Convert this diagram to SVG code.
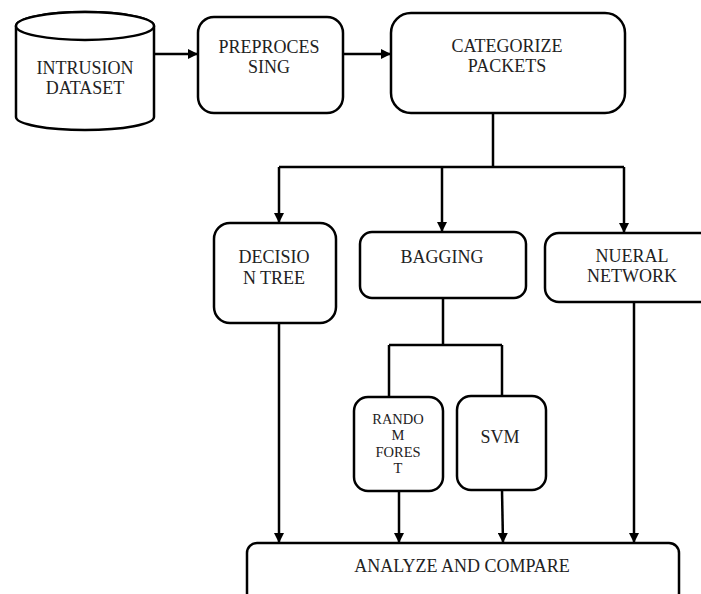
<svg xmlns="http://www.w3.org/2000/svg" width="701" height="594" viewBox="0 0 701 594">
  <style>
    .box { fill: #ffffff; stroke: #000000; stroke-width: 2.5; }
    .lbl { font-family: "Liberation Serif", "Times New Roman", serif; font-size: 18px; fill: #222222; text-anchor: middle; }
    .sm { font-size: 14.5px; }
    .wire { fill: none; stroke: #000000; stroke-width: 2.5; }
  </style>
  <defs>
    <marker id="arrow" viewBox="0 0 10 10" refX="10" refY="5" markerWidth="4" markerHeight="4" orient="auto" markerUnits="strokeWidth">
      <path d="M0,0 L10,5 L0,10 z" fill="#000000"/>
    </marker>
  </defs>
  <rect width="701" height="594" fill="#ffffff"/>

  <!-- flow lines between the steps -->
  <g id="connectors">
    <path class="wire" d="M154,54 H198" marker-end="url(#arrow)"/>
    <path class="wire" d="M343,54 H391" marker-end="url(#arrow)"/>
    <path class="wire" d="M493,113 V167"/>
    <path class="wire" d="M279,167 H624"/>
    <path class="wire" d="M279,167 V223" marker-end="url(#arrow)"/>
    <path class="wire" d="M442,167 V232" marker-end="url(#arrow)"/>
    <path class="wire" d="M624,167 V233" marker-end="url(#arrow)"/>
    <path class="wire" d="M443,298 V345"/>
    <path class="wire" d="M389,345 H502"/>
    <path class="wire" d="M389,345 V397"/>
    <path class="wire" d="M502,345 V396"/>
    <path class="wire" d="M279,323 V543" marker-end="url(#arrow)"/>
    <path class="wire" d="M399,491 V543" marker-end="url(#arrow)"/>
    <path class="wire" d="M502,490 L503,543" marker-end="url(#arrow)"/>
    <path class="wire" d="M634,302 V543" marker-end="url(#arrow)"/>
  </g>

  <g id="intrusion-dataset">
    <path class="box" d="M16,26 V117 A69,13 0 0 0 154,117 V26 A69,14 0 0 0 16,26 Z"/>
    <ellipse class="box" cx="85" cy="26" rx="69" ry="14"/>
    <text class="lbl" x="85" y="74">INTRUSION</text>
    <text class="lbl" x="85" y="94">DATASET</text>
  </g>

  <g id="preprocessing">
    <rect class="box" x="198" y="17" width="145" height="96" rx="16"/>
    <text class="lbl" x="269" y="53">PREPROCES</text>
    <text class="lbl" x="269" y="73">SING</text>
  </g>

  <g id="categorize-packets">
    <rect class="box" x="391" y="13" width="234" height="100" rx="20"/>
    <text class="lbl" x="507" y="52">CATEGORIZE</text>
    <text class="lbl" x="507" y="72">PACKETS</text>
  </g>

  <g id="decision-tree">
    <rect class="box" x="214" y="223" width="122" height="100" rx="16"/>
    <text class="lbl" x="274" y="263">DECISIO</text>
    <text class="lbl" x="274" y="284">N TREE</text>
  </g>

  <g id="bagging">
    <rect class="box" x="360" y="232" width="166" height="66" rx="12"/>
    <text class="lbl" x="442" y="263">BAGGING</text>
  </g>

  <g id="neural-network">
    <rect class="box" x="545" y="233" width="175" height="69" rx="14"/>
    <text class="lbl" x="632" y="262">NUERAL</text>
    <text class="lbl" x="632" y="282">NETWORK</text>
  </g>

  <g id="random-forest">
    <rect class="box" x="354" y="397" width="89" height="94" rx="14"/>
    <text class="lbl sm" x="398" y="424">RANDO</text>
    <text class="lbl sm" x="398" y="440">M</text>
    <text class="lbl sm" x="398" y="457">FORES</text>
    <text class="lbl sm" x="398" y="473">T</text>
  </g>

  <g id="svm">
    <rect class="box" x="457" y="396" width="89" height="94" rx="14"/>
    <text class="lbl" x="500" y="443">SVM</text>
  </g>

  <g id="analyze-compare">
    <rect class="box" x="247" y="543" width="432" height="60" rx="10"/>
    <text class="lbl" x="462" y="572">ANALYZE AND COMPARE</text>
  </g>
</svg>
